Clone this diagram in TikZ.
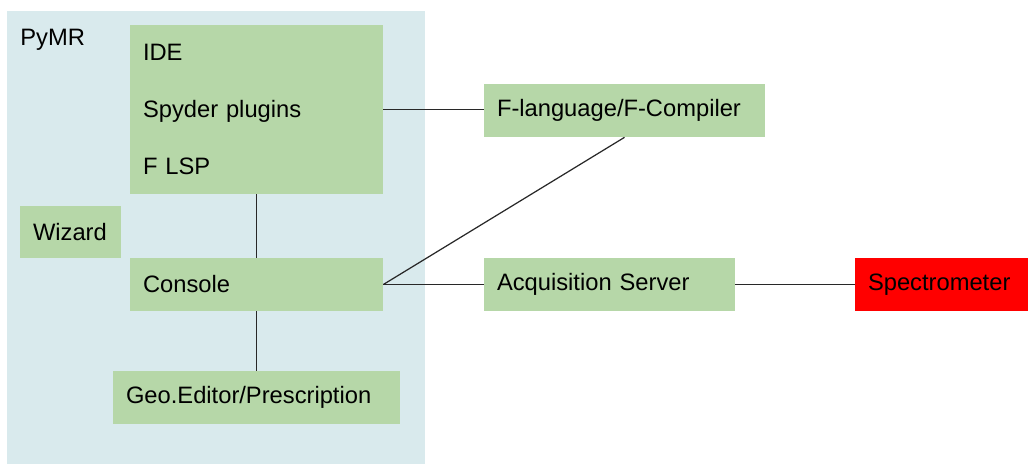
\documentclass[tikz,border=0pt]{standalone}
\usepackage{fontspec}
\setmainfont{Liberation Sans}
\usepackage{tikz}
\usetikzlibrary{positioning}
\definecolor{vert}{RGB}{182,215,168}
\definecolor{bleuclair}{RGB}{217,234,237}
\definecolor{rouge}{RGB}{255,0,0}
\definecolor{trait}{RGB}{40,40,40}

\begin{document}
\begin{tikzpicture}[font=\fontsize{13.5}{16}\selectfont,
		bloc/.style={fill=vert, inner xsep=0.26cm, inner ysep=0pt,
			minimum height=1.06cm, align=left},
		lien/.style={draw=trait, line width=0.7pt}]
				\useasboundingbox (0,0) rectangle (20.56,9.28);
				
				% zone PyMR
				\fill[bleuclair] (0.14,0) rectangle (8.5,9.06);
				\node[anchor=west, inner sep=0pt] (pymr) at (0.4,8.48) {PyMR};
				
				\node[bloc, text width=4.54cm, minimum height=3.38cm,
				font=\fontsize{13.5}{32.7}\selectfont]
				(ide) at (5.13,7.09) {IDE\\Spyder plugins\\F LSP};
				
				\node[bloc, text width=1.5cm, minimum height=1.04cm]
				(wizard) at (1.41,4.64) {Wizard};
				
				\node[bloc, text width=4.54cm]
				(console) at (5.13,3.59) {Console};
				
				\node[bloc, text width=5.22cm]
				(geo) at (5.13,1.33) {Geo.Editor/Prescription};
				
				% hors PyMR
				\node[bloc, text width=5.1cm]
				(flang) at (12.49,7.07) {F-language/F-Compiler};
				
				\node[bloc, text width=4.5cm]
				(acq) at (12.19,3.59) {Acquisition Server};
				
				\node[bloc, fill=rouge, text width=2.94cm]
				(spectro) at (18.83,3.59) {Spectrometer};
				
				\draw[lien] (ide.east) -- (ide.east -| flang.west);
				\draw[lien] (ide.south) -- (console.north);
				\draw[lien] (console.south) -- (geo.north);
				\draw[lien] (console.east) -- (acq.west);
				\draw[lien] (console.east) -- (flang.south);
				\draw[lien] (acq.east) -- (spectro.west);
			\end{tikzpicture}
\end{document}
